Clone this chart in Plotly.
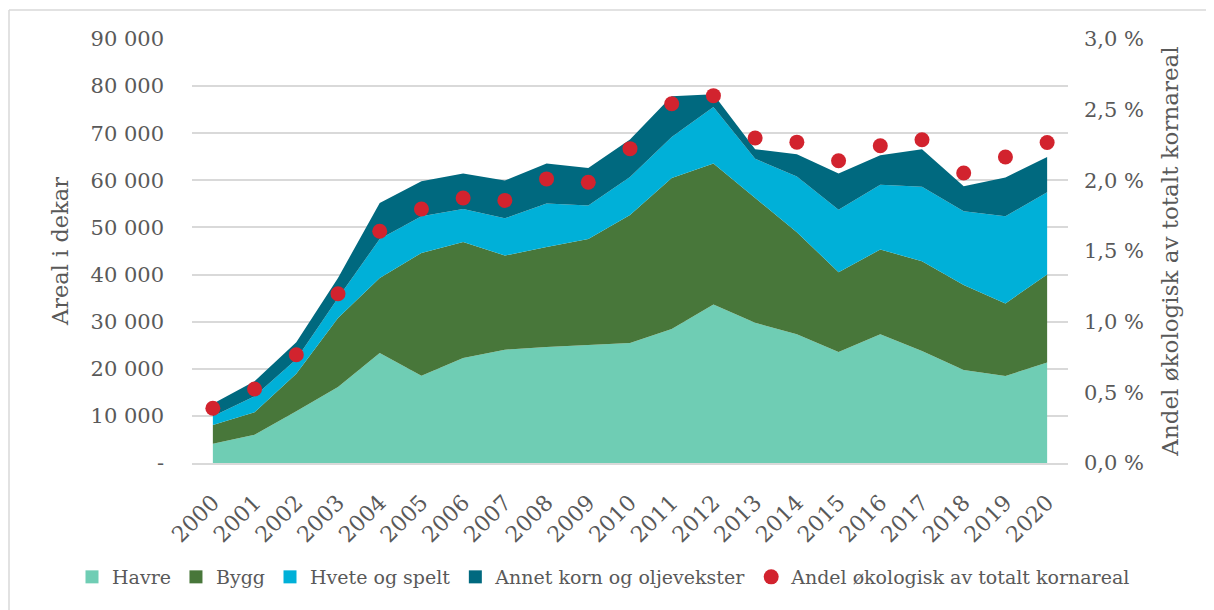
import plotly.graph_objects as go

years = [str(y) for y in range(2000, 2021)]
havre = [4100, 6000, 10970, 16140, 23350, 18540, 22290, 24060, 24630, 25120, 25480,
         28450, 33620, 29750, 27310, 23570, 27310, 23780, 19760, 18490, 21310]
bygg = [3970, 4760, 8000, 14650, 15930, 26050, 24630, 19960, 21230, 22440, 27170,
        32060, 29930, 26500, 21670, 16940, 18000, 19060, 18000, 15380, 18700]
hvete = [1830, 3390, 3030, 4210, 8280, 7780, 7010, 7930, 9200, 7080, 8070,
         8700, 12030, 8320, 11850, 13270, 13760, 15800, 15660, 18490, 17440]
annet = [2700, 3190, 3620, 4280, 7640, 7430, 7500, 7990, 8490, 7990, 7930,
         8640, 2690, 2050, 4730, 7690, 6280, 7980, 5300, 8260, 7480]
andel = [0.387, 0.524, 0.766, 1.198, 1.64, 1.797, 1.875, 1.858, 2.01, 1.986, 2.224,
         2.542, 2.599, 2.30, 2.27, 2.139, 2.245, 2.287, 2.052, 2.165, 2.268]

left_ticks = [0, 10000, 20000, 30000, 40000, 50000, 60000, 70000, 80000, 90000]
left_labels = ["-", "10 000", "20 000", "30 000", "40 000", "50 000", "60 000",
               "70 000", "80 000", "90 000"]
right_ticks = [0, 0.5, 1.0, 1.5, 2.0, 2.5, 3.0]
right_labels = ["0,0 %", "0,5 %", "1,0 %", "1,5 %", "2,0 %", "2,5 %", "3,0 %"]

FONT = "Georgia, 'DejaVu Serif', serif"
TXT = "#595959"

# page body has an 8px default margin, so the figure is drawn 8px smaller
# and all pixel positions are offset by 8px
OFF = 8
W, H = 1214 - OFF, 610 - OFF
PL, PT, PR, PB = 192, 39, 1068, 463   # target plot area in screenshot pixels
PW, PH = PR - PL, PB - PT

fig = go.Figure()
series = [("Havre", havre, "#6FCDB4"), ("Bygg", bygg, "#48773A"),
          ("Hvete og spelt", hvete, "#00B0D8"),
          ("Annet korn og oljevekster", annet, "#00697F")]
for name, vals, col in series:
    fig.add_trace(go.Scatter(x=years, y=vals, name=name, stackgroup="one",
                             mode="lines", line=dict(width=0, color=col),
                             fillcolor=col, showlegend=False))
# legend entries with square swatches
for name, vals, col in series:
    fig.add_trace(go.Scatter(x=[None], y=[None], name=name, mode="markers",
                             marker=dict(symbol="square", size=13, color=col)))
fig.add_trace(go.Scatter(x=years, y=andel, name="Andel økologisk av totalt kornareal",
                         mode="markers", yaxis="y2",
                         marker=dict(color="#D2232E", size=15)))

fig.update_layout(
    width=W, height=H,
    margin=dict(l=PL - OFF, r=W - (PR - OFF), t=PT - OFF, b=H - (PB - OFF),
                autoexpand=False),
    paper_bgcolor="white", plot_bgcolor="white",
    font=dict(family=FONT, color=TXT, size=21),
    showlegend=True,
    legend=dict(orientation="h", x=(72 - PL) / PW, xanchor="left",
                y=(PB - 577) / PH, yanchor="middle",
                font=dict(size=19, color=TXT), itemwidth=30, traceorder="normal",
                tracegroupgap=0),
    xaxis=dict(type="category", tickangle=-45, showgrid=False, showline=True,
               linecolor="#D9D9D9", linewidth=2, ticks="", tickfont=dict(size=22),
               range=[-0.5, 20.5], automargin=False, ticklabelstandoff=16),
    yaxis=dict(range=[0, 90000], tickvals=left_ticks, ticktext=left_labels,
               showgrid=True, gridcolor="#D9D9D9", gridwidth=1.5, zeroline=False,
               ticks="", ticklabelstandoff=27, automargin=False,
               title=dict(text="Areal i dekar", font=dict(size=22.5, color=TXT),
                          standoff=15)),
    yaxis2=dict(range=[0, 3.0], tickvals=right_ticks, ticktext=right_labels,
                overlaying="y", side="right", showgrid=False, zeroline=False,
                ticks="", ticklabelstandoff=15, automargin=False,
                title=dict(text="Andel økologisk av totalt kornareal",
                           font=dict(size=23, color=TXT), standoff=18)),
)

# outer chart border (left and top edges visible)
bx = (9 - PL) / PW
by = (PB - 10) / PH
fig.add_shape(type="line", xref="paper", yref="paper",
              x0=bx, x1=(1220 - PL) / PW, y0=by, y1=by,
              line=dict(color="#D9D9D9", width=1.5))
fig.add_shape(type="line", xref="paper", yref="paper",
              x0=bx, x1=bx, y0=by, y1=(PB - 620) / PH,
              line=dict(color="#D9D9D9", width=1.5))

fig.write_html("out.html")
